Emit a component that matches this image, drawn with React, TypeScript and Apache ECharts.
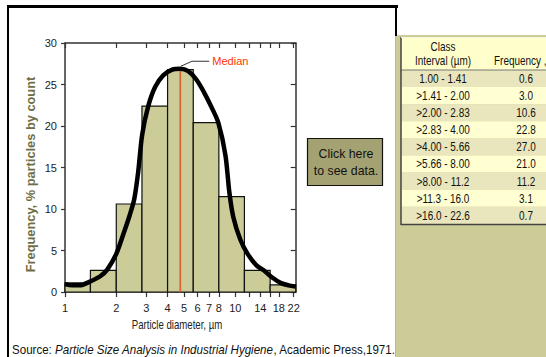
import React, { useEffect, useRef } from "react";
import * as echarts from "echarts";

// ---- data ----
const binEdges = [1.0, 1.41, 2.0, 2.83, 4.0, 5.66, 8.0, 11.3, 16.0, 22.6];
const barValues = [1.1, 2.6, 10.6, 22.4, 26.8, 20.4, 11.5, 2.6, 0.85];

const curveDiameters = [1.0, 1.1, 1.22, 1.4, 1.61, 1.77, 2.0, 2.22, 2.41, 2.55, 2.69, 2.84, 3.08, 3.38, 3.77, 4.26, 4.75, 5.29, 5.9, 6.57, 7.23, 7.94, 8.74, 9.22, 9.73, 10.7, 11.8, 13.3, 14.6, 16.3, 18.4, 20.5, 22.6];
const curveValues = [0.95, 0.8, 0.8, 1.25, 1.9, 2.7, 4.6, 7.2, 9.4, 11.2, 14.5, 19.0, 22.4, 24.7, 26.1, 26.8, 26.9, 26.6, 25.6, 24.0, 22.3, 20.4, 16.5, 12.0, 9.0, 6.3, 4.6, 3.2, 2.65, 1.8, 1.1, 0.8, 0.65];

const medianDiameter = 4.75;
const medianTop = 26.9;
const leaderDiameters = [4.79, 5.56, 7.03];
const leaderValues = [27.2, 27.8, 27.8];

const xTickValues = [1, 2, 3, 4, 5, 6, 7, 8, 10, 12, 14, 16, 18, 22];
const xLabelValues = [1, 2, 3, 4, 5, 6, 7, 8, 10, 14, 18, 22];
const yMin = 0;
const yMax = 30;
const yInterval = 5;

const classIntervals = ["1.00 - 1.41", ">1.41 - 2.00", ">2.00 - 2.83", ">2.83 - 4.00", ">4.00 - 5.66", ">5.66 - 8.00", ">8.00 - 11.2", ">11.3 - 16.0", ">16.0 - 22.6"];
const tableFrequencies = ["0.6", "3.0", "10.6", "22.8", "27.0", "21.0", "11.2", "3.1", "0.7"];

const FONT = "'Liberation Sans', Arial, sans-serif";

const lg = (v: number) => Math.log10(v);

// condensed text helper (font has no narrow variant installed)
const ctext = (x: number, y: number, text: string, opts: any = {}) => ({
  type: "text",
  x,
  y,
  scaleX: opts.scaleX ?? 0.83,
  rotation: opts.rotation ?? 0,
  z: opts.z ?? 6,
  style: {
    x: 0,
    y: 0,
    text,
    fill: opts.fill ?? "#111",
    font: opts.font ?? `12px ${FONT}`,
    align: opts.align ?? "center",
    verticalAlign: "middle",
    rich: opts.rich,
  },
});

export default function App() {
  const ref = useRef<HTMLDivElement>(null);
  useEffect(() => {
    if (!ref.current) return;
    const chart = echarts.init(ref.current, undefined, { renderer: "svg" });

    const barData = barValues.map((v, i) => [lg(binEdges[i]), lg(binEdges[i + 1]), v]);
    const curveData = curveDiameters.map((d, i) => [lg(d), curveValues[i]]);
    const xMax = lg(binEdges[binEdges.length - 1]);

    const rowTop = 70;
    const rowH = 17.1;
    const tableGraphics: any[] = [];
    classIntervals.forEach((c, i) => {
      tableGraphics.push({
        type: "rect",
        shape: { x: 401, y: rowTop + i * rowH, width: 150, height: rowH },
        style: { fill: i % 2 === 0 ? "#e9e6bd" : "#ffffd2" },
        z: 2,
      });
      tableGraphics.push(ctext(443, rowTop + (i + 0.5) * rowH, c));
      tableGraphics.push(ctext(526, rowTop + (i + 0.5) * rowH, tableFrequencies[i]));
    });

    const option: any = {
      animation: false,
      backgroundColor: "#ffffff",
      grid: { left: 65, top: 43, width: 230.7, height: 249, containLabel: false },
      xAxis: [
        {
          type: "value",
          position: "bottom",
          min: 0,
          max: xMax,
          splitLine: { show: false },
          axisLine: { show: true, onZero: false, lineStyle: { color: "#333", width: 1.5 } },
          axisTick: { show: true, inside: false, length: 5, customValues: xTickValues.map(lg), lineStyle: { color: "#333", width: 1.2 } },
          axisLabel: {
            customValues: xLabelValues.map(lg),
            formatter: (v: number) => String(Math.round(Math.pow(10, v))),
            color: "#222",
            fontFamily: FONT,
            fontSize: 11,
            margin: 10,
          },
        },
        {
          type: "value",
          position: "top",
          min: 0,
          max: xMax,
          splitLine: { show: false },
          axisLine: { show: true, onZero: false, lineStyle: { color: "#333", width: 1.5 } },
          axisTick: { show: true, inside: true, length: 5, customValues: xTickValues.map(lg), lineStyle: { color: "#333", width: 1.2 } },
          axisLabel: { show: false },
        },
      ],
      yAxis: [
        {
          type: "value",
          position: "left",
          min: yMin,
          max: yMax,
          interval: yInterval,
          splitLine: { show: false },
          axisLine: { show: true, onZero: false, lineStyle: { color: "#333", width: 1.5 } },
          axisTick: { show: true, inside: false, length: 4, lineStyle: { color: "#333", width: 1.2 } },
          axisLabel: { color: "#222", fontFamily: FONT, fontSize: 11, margin: 8 },
        },
        {
          type: "value",
          position: "right",
          min: yMin,
          max: yMax,
          interval: yInterval,
          splitLine: { show: false },
          axisLine: { show: true, onZero: false, lineStyle: { color: "#333", width: 1.5 } },
          axisTick: { show: true, inside: true, length: 5, lineStyle: { color: "#333", width: 1.2 } },
          axisLabel: { show: false },
        },
      ],
      series: [
        {
          type: "custom",
          name: "bars",
          xAxisIndex: 0,
          yAxisIndex: 0,
          encode: { x: [0, 1], y: 2 },
          data: barData,
          z: 2,
          renderItem: (params: any, api: any) => {
            const p0 = api.coord([api.value(0), 0]);
            const p1 = api.coord([api.value(1), api.value(2)]);
            return {
              type: "rect",
              shape: { x: p0[0], y: p1[1], width: p1[0] - p0[0], height: p0[1] - p1[1] },
              style: { fill: "#cccc99", stroke: "#111", lineWidth: 1.2 },
            };
          },
        },
        {
          type: "line",
          name: "median",
          data: [[lg(medianDiameter), 0], [lg(medianDiameter), medianTop]],
          symbol: "none",
          lineStyle: { color: "#d9642f", width: 1.8 },
          z: 3,
        },
        {
          type: "line",
          name: "leader",
          data: leaderDiameters.map((d, i) => [lg(d), leaderValues[i]]),
          symbol: "none",
          lineStyle: { color: "#333", width: 1 },
          z: 3,
          endLabel: {
            show: true,
            formatter: () => "Median",
            color: "#ff3300",
            fontFamily: FONT,
            fontSize: 11,
            distance: 3,
          },
        },
        {
          type: "line",
          name: "curve",
          data: curveData,
          symbol: "none",
          smooth: 0.3,
          lineStyle: { color: "#000", width: 4.5 },
          z: 4,
        },
      ],
      graphic: [
        // frame around chart panel
        { type: "rect", shape: { x: 7, y: 5, width: 391, height: 3 }, style: { fill: "#000" }, z: 10 },
        { type: "rect", shape: { x: 7, y: 5, width: 2, height: 352 }, style: { fill: "#000" }, z: 10 },
        { type: "rect", shape: { x: 395, y: 5, width: 2, height: 31 }, style: { fill: "#000" }, z: 10 },
        // right beige panel
        { type: "rect", shape: { x: 396, y: 35, width: 150, height: 322 }, style: { fill: "#cccc99" }, z: 1 },
        { type: "rect", shape: { x: 395, y: 35, width: 1, height: 322 }, style: { fill: "#b8b8a0" }, z: 1 },
        // table header
        { type: "rect", shape: { x: 401, y: 37, width: 150, height: 33 }, style: { fill: "#ffffcc" }, z: 2 },
        ...tableGraphics,
        { type: "line", shape: { x1: 401, y1: 70, x2: 546, y2: 70 }, style: { stroke: "#777", lineWidth: 1 }, z: 5 },
        { type: "line", shape: { x1: 401, y1: 37, x2: 401, y2: 225 }, style: { stroke: "#444", lineWidth: 1.5 }, z: 5 },
        { type: "line", shape: { x1: 401, y1: 224.5, x2: 546, y2: 224.5 }, style: { stroke: "#444", lineWidth: 1.5 }, z: 5 },
        { type: "line", shape: { x1: 401, y1: 37.5, x2: 546, y2: 37.5 }, style: { stroke: "#f4f4e0", lineWidth: 1 }, z: 5 },
        ctext(443, 47, "Class"),
        ctext(443, 61, "Interval (\u00b5m)"),
        ctext(494, 61, "Frequency ,(%)", { align: "left" }),
        // button
        { type: "rect", shape: { x: 307.5, y: 138.5, width: 75, height: 47 }, style: { fill: "#a4a172", stroke: "#111", lineWidth: 1.2 }, z: 5 },
        ctext(346, 154, "Click here", { font: `13px ${FONT}`, scaleX: 0.95 }),
        ctext(346, 170.5, "to see data.", { font: `13px ${FONT}`, scaleX: 0.95 }),
        // axis names
        ctext(30, 174.5, "Frequency, % particles by count", {
          rotation: Math.PI / 2,
          scaleX: 0.95,
          fill: "#6f6f45",
          font: `bold 13.5px ${FONT}`,
        }),
        ctext(177, 325, "Particle diameter, \u00b5m", { font: `12.5px ${FONT}`, scaleX: 0.77, fill: "#222" }),
        // source
        ctext(12, 349.5, "{n|Source: }{i|Particle Size Analysis in Industrial Hygiene}{n|, Academic Press,1971.}", {
          align: "left",
          scaleX: 0.925,
          rich: {
            n: { fill: "#111", font: `12.5px ${FONT}`, lineHeight: 13 },
            i: { fill: "#111", font: `italic 12.5px ${FONT}`, lineHeight: 13 },
          },
        }),
      ],
    };
    chart.setOption(option);
    return () => chart.dispose();
  }, []);
  return <div ref={ref} style={{ position: "fixed", left: 0, top: 0, width: 546, height: 357 }} />;
}
